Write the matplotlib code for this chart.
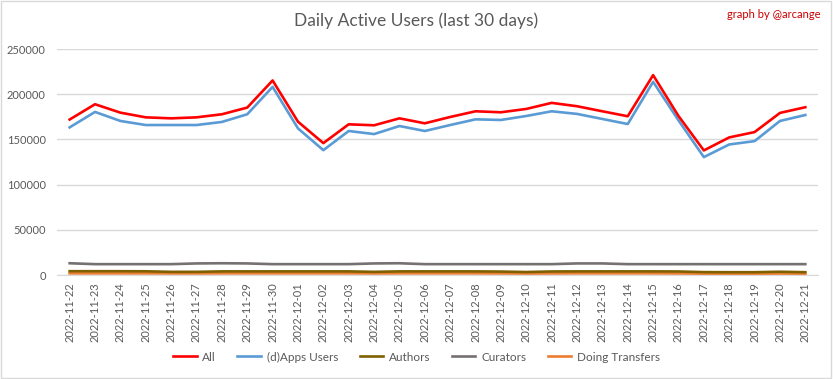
import matplotlib
matplotlib.use("Agg")
import matplotlib.pyplot as plt
import pandas as pd

dates = [d.strftime("%Y-%m-%d") for d in pd.date_range("2022-11-22", "2022-12-21")]

all_users = [172000, 188900, 179600, 174400, 173300, 174400, 177800, 185200, 215200, 169600,
             145900, 166700, 165600, 173300, 167800, 174800, 181100, 180000, 183700, 190400,
             186700, 181100, 175600, 221100, 175900, 137800, 152200, 158100, 179300, 185600]
apps_users = [163300, 180400, 170400, 165900, 165900, 165900, 169300, 177800, 208100, 162200,
              138100, 159300, 155900, 164800, 159300, 165900, 172200, 171500, 175900, 181100,
              178200, 172600, 167000, 213700, 171100, 130400, 144400, 148100, 170400, 177000]
authors = [4200, 4200, 4200, 4100, 3500, 3500, 4000, 4000, 4000, 4000,
           4000, 4000, 3500, 4000, 4000, 4000, 4000, 3800, 3300, 3900,
           4000, 4000, 4000, 4000, 3900, 3200, 3100, 3100, 3600, 3100]
curators = [13000, 12000, 12000, 12000, 12000, 12800, 13000, 12800, 12000, 12000,
            12000, 12000, 12800, 13000, 12000, 12000, 12000, 12000, 12000, 12000,
            12800, 12800, 12000, 12000, 12000, 12000, 12000, 12000, 12000, 12000]
transfers = [1800, 1800, 1800, 1800, 1700, 1700, 1800, 1800, 1800, 1800,
             1800, 1800, 1700, 1800, 1800, 1800, 1800, 1700, 1600, 1700,
             1800, 1800, 1800, 1800, 1700, 1500, 1500, 1500, 1600, 1500]

series = [
    ("All", all_users, "#FF0000"),
    ("(d)Apps Users", apps_users, "#5B9BD5"),
    ("Authors", authors, "#7F6000"),
    ("Curators", curators, "#767171"),
    ("Doing Transfers", transfers, "#ED7D31"),
]

plt.rcParams['font.family'] = ['Lato', 'DejaVu Sans']
fig = plt.figure(figsize=(8.33, 3.79), dpi=100)
fig.patch.set_facecolor("white")
ax = fig.add_axes([0.0684, 0.2744, 0.9136, 0.5963])

x = list(range(len(dates)))
for name, vals, col in series[::-1]:
    ax.plot(x, vals, color=col, linewidth=1.9, label=name, solid_joinstyle="round")

ax.set_xlim(-0.5, len(dates) - 0.5)
ax.set_ylim(0, 250000)
ax.set_yticks([0, 50000, 100000, 150000, 200000, 250000])
ax.set_yticklabels(["0", "50000", "100000", "150000", "200000", "250000"])
ax.set_xticks(x)
ax.set_xticklabels(dates, rotation=90)
ax.tick_params(axis="both", length=0, labelsize=8, colors="#595959")
ax.tick_params(axis="x", pad=5)
ax.tick_params(axis="y", pad=8)
ax.grid(axis="y", color="#D9D9D9", linewidth=1)
ax.set_axisbelow(True)
for s in ["top", "right", "left"]:
    ax.spines[s].set_visible(False)
ax.spines["bottom"].set_color("#D9D9D9")

fig.text(0.5, 0.945, "Daily Active Users (last 30 days)", ha="center", va="center",
         fontsize=12.5, color="#595959")
fig.text(0.985, 0.962, "graph by @arcange", ha="right", va="center", fontsize=8,
         color="#CC0000")

handles, labels = ax.get_legend_handles_labels()
order = [4, 3, 2, 1, 0]
leg = fig.legend([handles[i] for i in order], [labels[i] for i in order],
                 loc="center", bbox_to_anchor=(0.5, 0.058), ncol=5, frameon=False,
                 fontsize=8.5, handlelength=2.0, columnspacing=1.8, handletextpad=0.5)
for t in leg.get_texts():
    t.set_color("#595959")

border = plt.Rectangle((0.001, 0.002), 0.997, 0.995, transform=fig.transFigure,
                       fill=False, edgecolor="#D9D9D9", linewidth=1)
fig.add_artist(border)

fig.savefig("out.png", dpi=100)
